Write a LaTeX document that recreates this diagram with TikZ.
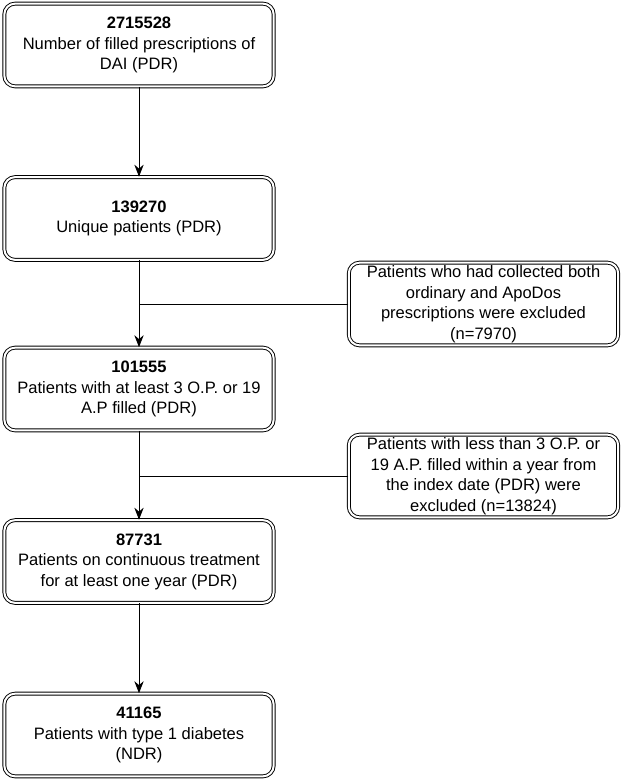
\documentclass[tikz,border=0pt]{standalone}
\usepackage{fontspec}
\setmainfont{Liberation Sans}
\usetikzlibrary{arrows.meta}

\tikzset{
  stagebox/.style={draw, double, double distance=1.5pt, line width=0.7pt,
    rounded corners=8pt, align=center,
    minimum width=202pt, minimum height=62pt, inner sep=2pt,
    font=\fontsize{12.4}{15.4}\selectfont},
  flowarrow/.style={line width=0.75pt, -{Stealth[length=9pt,width=7pt]}},
  sideline/.style={line width=0.75pt}
}

\begin{document}
\begin{tikzpicture}[x=0.75pt, y=-0.75pt]
    \useasboundingbox (0,0) rectangle (624,781);

    % main chain
    \node[stagebox] (prescr) at (139,45) {\textbf{2715528}\\Number of filled prescriptions of\\DAI (PDR)};
    \node[stagebox] (unique) at (139,218.5) {\textbf{139270}\\Unique patients (PDR)};
    \node[stagebox] (atleast) at (139,389) {\textbf{101555}\\Patients with at least 3 O.P. or 19\\A.P filled (PDR)};
    \node[stagebox] (contin) at (139,561.5) {\textbf{87731}\\Patients on continuous treatment\\for at least one year (PDR)};
    \node[stagebox] (diab) at (139,735) {\textbf{41165}\\Patients with type 1 diabetes\\(NDR)};

    % exclusions
    \node[stagebox] (excl1) at (483.5,304) {Patients who had collected both\\ordinary and ApoDos\\prescriptions were excluded\\(n=7970)};
    \node[stagebox] (excl2) at (483.5,476) {Patients with less than 3 O.P. or\\19 A.P. filled within a year from\\the index date (PDR) were\\excluded (n=13824)};

    \draw[flowarrow] (prescr) -- (unique);
    \draw[flowarrow] (unique) -- (atleast);
    \draw[flowarrow] (atleast) -- (contin);
    \draw[flowarrow] (contin) -- (diab);

    \draw[sideline] (excl1.west) -- (excl1.west -| unique.south);
    \draw[sideline] (excl2.west) -- (excl2.west -| atleast.south);

\end{tikzpicture}
\end{document}
